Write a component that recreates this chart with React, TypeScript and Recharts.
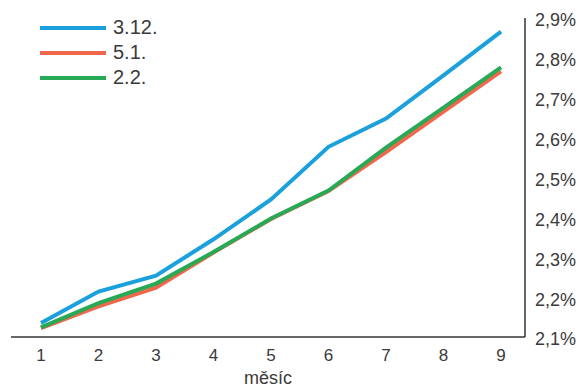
import React from 'react'
import { LineChart, Line, XAxis, YAxis } from 'recharts';

const months = ['1', '2', '3', '4', '5', '6', '7', '8', '9'];
const dec3 = [2.135, 2.214, 2.254, 2.345, 2.445, 2.577, 2.648, 2.756, 2.866];
const jan5 = [2.122, 2.177, 2.224, 2.312, 2.396, 2.466, 2.564, 2.665, 2.766];
const feb2 = [2.124, 2.185, 2.234, 2.313, 2.397, 2.467, 2.575, 2.675, 2.776];
const yTicks = [2.1, 2.2, 2.3, 2.4, 2.5, 2.6, 2.7, 2.8, 2.9];

const series = [
    { key: 'dec3', name: '3.12.', color: '#1aa0dc' },
    { key: 'jan5', name: '5.1.', color: '#f0674b' },
    { key: 'feb2', name: '2.2.', color: '#28a956' },
];

const data = months.map((m, i) => ({
    month: m,
    dec3: dec3[i],
    jan5: jan5[i],
    feb2: feb2[i],
}));

const font = '"Liberation Sans", Arial, sans-serif';
const textColor = '#3a3a3a';

// legend drawn over the chart, top left
const MyLegend = () => (
    <div style={{ position: 'absolute', left: 40, top: 15, fontFamily: font, fontSize: 20, color: textColor }}>
        {series.map(s => (
            <div key={s.key} style={{ display: 'flex', alignItems: 'center', height: 25 }}>
                <div style={{ width: 66, height: 4, background: s.color, marginRight: 7 }} />
                <span>{s.name}</span>
            </div>
        ))}
    </div>
);

const App = () => {
    return (
        <div style={{ position: 'absolute', left: 0, top: 0, width: 586, height: 390, background: '#fff' }}>
            <LineChart
                width={586}
                height={390}
                data={data}
                margin={{ top: 18, right: 0, left: 11, bottom: 0 }}
            >
                <XAxis
                    dataKey="month"
                    padding={{ left: 30, right: 24 }}
                    axisLine={{ stroke: '#333', strokeWidth: 1.5 }}
                    tickLine={false}
                    tick={{ fill: textColor, fontSize: 17, fontFamily: font }}
                    tickMargin={6}
                    height={53}
                    label={{ value: 'měsíc', position: 'insideBottom', offset: 6, fill: textColor, fontSize: 18, fontFamily: font }}
                />
                <YAxis
                    orientation="right"
                    domain={[2.1, 2.9]}
                    ticks={yTicks}
                    axisLine={{ stroke: '#333', strokeWidth: 1.5 }}
                    tickLine={false}
                    tick={{ fill: textColor, fontSize: 18, fontFamily: font, dy: 2 }}
                    tickMargin={4}
                    width={61}
                    tickFormatter={(v: number) => v.toFixed(1).replace('.', ',') + '%'}
                />
                {series.map(s => (
                    <Line
                        key={s.key}
                        type="linear"
                        dataKey={s.key}
                        name={s.name}
                        stroke={s.color}
                        strokeWidth={4}
                        dot={false}
                        isAnimationActive={false}
                    />
                ))}
            </LineChart>
            <MyLegend />
        </div>
    );
}

export default App
